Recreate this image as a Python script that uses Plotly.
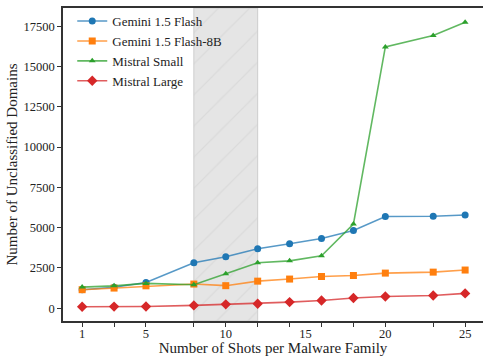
import plotly.graph_objects as go

shots = [1, 3, 5, 8, 10, 12, 14, 16, 18, 20, 23, 25]
gemini_flash = [1150, 1300, 1600, 2820, 3190, 3690, 4000, 4330, 4820, 5690, 5710, 5790]
gemini_flash_8b = [1150, 1250, 1390, 1500, 1400, 1680, 1810, 1970, 2030, 2180, 2240, 2370]
mistral_small = [1310, 1390, 1540, 1460, 2140, 2820, 2940, 3250, 5220, 16220, 16930, 17750]
mistral_large = [90, 100, 110, 175, 240, 280, 380, 480, 630, 730, 790, 920]

region_start, region_end = 8, 12
x_tick_labels = [1, 5, 10, 15, 20, 25]
y_ticks = [0, 2500, 5000, 7500, 10000, 12500, 15000, 17500]

x_range = [-0.2, 26.12]
y_range = [-793, 18633]

FONT = "Liberation Serif, Times New Roman, DejaVu Serif, serif"

series = [
    ("Gemini 1.5 Flash", gemini_flash, "31,119,180", "circle", 7),
    ("Gemini 1.5 Flash-8B", gemini_flash_8b, "255,127,14", "square", 7),
    ("Mistral Small", mistral_small, "44,160,44", "triangle-up", 6),
    ("Mistral Large", mistral_large, "214,39,40", "diamond", 8),
]

fig = go.Figure()

# shaded region
fig.add_trace(go.Scatter(
    x=[region_start, region_start, region_end, region_end, region_start],
    y=[y_range[0], y_range[1], y_range[1], y_range[0], y_range[0]],
    mode="lines", fill="toself",
    fillcolor="#e5e5e5",
    fillpattern=dict(shape="/", bgcolor="#e5e5e5", fgcolor="#d0d0d0", size=22, solidity=0.06),
    line=dict(color="#cdcdcd", width=1),
    showlegend=False, hoverinfo="skip",
))

for name, vals, rgb, sym, size in series:
    fig.add_trace(go.Scatter(
        x=shots, y=vals, name=name, mode="lines+markers",
        line=dict(color=f"rgba({rgb},0.75)", width=1.6),
        marker=dict(color=f"rgb({rgb})", symbol=sym, size=size, line=dict(width=0)),
    ))

fig.update_layout(
    width=483, height=356,
    margin=dict(l=63, r=0, t=8, b=35),
    paper_bgcolor="white", plot_bgcolor="white",
    font=dict(family=FONT, size=12, color="#222"),
    showlegend=True,
    legend=dict(
        x=0.022, y=1.006, xanchor="left", yanchor="top",
        bgcolor="rgba(255,255,255,0)", borderwidth=0,
        font=dict(family=FONT, size=13, color="#222"),
        itemwidth=30, tracegroupgap=0,
    ),
    xaxis=dict(
        range=x_range, tickmode="array", tickvals=x_tick_labels,
        ticks="outside", ticklen=0, showgrid=False, zeroline=False,
        showline=True, mirror=True, linecolor="#333", linewidth=1.5,
        tickfont=dict(family=FONT, size=12.5),
        minor=dict(tickmode="array", tickvals=shots, ticks="outside", ticklen=4,
                   tickcolor="#333", tickwidth=1, showgrid=False),
        title=dict(text="Number of Shots per Malware Family", font=dict(family=FONT, size=15), standoff=4),
    ),
    yaxis=dict(
        range=y_range, tickmode="array", tickvals=y_ticks, tickformat="d",
        ticks="outside", ticklen=4, tickcolor="#333", tickwidth=1,
        showgrid=False, zeroline=False,
        showline=True, mirror=False, linecolor="#333", linewidth=1.5,
        tickfont=dict(family=FONT, size=12.5),
        title=dict(text="Number of Unclassified Domains", font=dict(family=FONT, size=15), standoff=2),
    ),
)

fig.write_html("out.html")
